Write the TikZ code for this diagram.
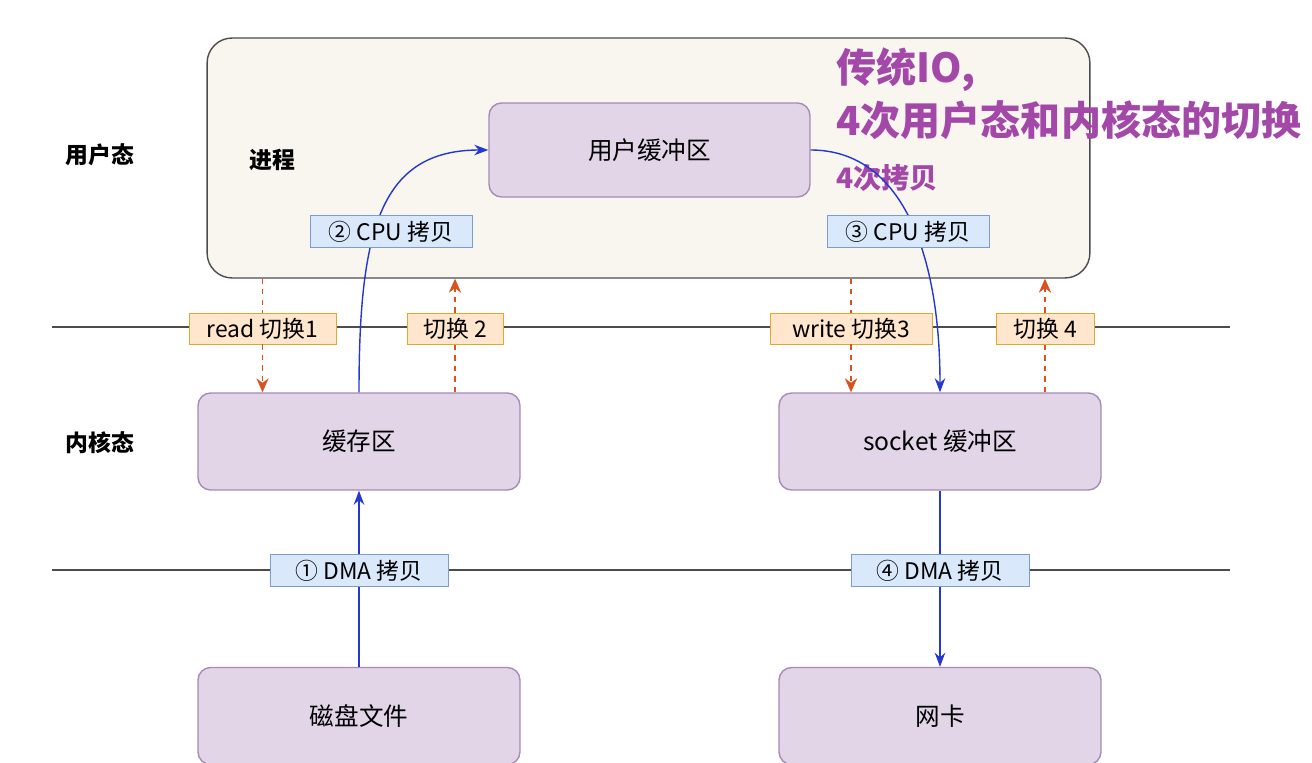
\documentclass[tikz,border=0pt]{standalone}
\usepackage{fontspec}
\setmainfont{Noto Sans CJK SC}
\usetikzlibrary{arrows.meta}

\definecolor{procFill}{HTML}{F8F6EE}
\definecolor{boxFill}{HTML}{E1D5E7}
\definecolor{boxLine}{HTML}{A58BB6}
\definecolor{swFill}{HTML}{FFE6CC}
\definecolor{swLine}{HTML}{E0A92E}
\definecolor{cpFill}{HTML}{DAE8FC}
\definecolor{cpLine}{HTML}{7C9CCB}
\definecolor{arrBlue}{HTML}{2438D0}
\definecolor{arrRed}{HTML}{D9531E}
\definecolor{ttl}{HTML}{A347A8}

\tikzstyle{pS}=[draw=black!70,fill=procFill,rounded corners=0.5cm,thick,minimum width=17.66cm,minimum height=4.8cm,inner sep=0pt]
\tikzstyle{bS}=[draw=boxLine,fill=boxFill,rounded corners=0.25cm,thick,minimum width=6.44cm,minimum height=1.94cm,inner sep=0pt,font=\fontsize{14pt}{16pt}\selectfont]
\tikzstyle{swS}=[draw=swLine,fill=swFill,minimum height=0.62cm,inner sep=0pt,font=\fontsize{13pt}{15pt}\selectfont]
\tikzstyle{cpS}=[draw=cpLine,fill=cpFill,minimum height=0.64cm,inner sep=0pt,font=\fontsize{13pt}{15pt}\selectfont]
\tikzstyle{tS}=[inner sep=0pt,font=\bfseries\fontsize{13pt}{15pt}\selectfont]
\tikzstyle{ttS}=[inner sep=0pt,anchor=west,text=ttl,font=\bfseries\fontsize{22.8pt}{26pt}\selectfont]
\tikzstyle{lS}=[draw=black!70,thick]
\tikzstyle{aS}=[draw=arrBlue,thick,-{Stealth[length=8pt,width=6pt]}]
\tikzstyle{dS}=[draw=arrRed,thick,dashed]

\begin{document}
\begin{tikzpicture}[x=0.02cm,y=-0.02cm]
    \useasboundingbox (0,0) rectangle (1312,763);
    % boxes
    \draw (648.5,158) node[pS] (proc) {};
    \draw (649.5,150) node[bS,minimum height=1.88cm,minimum width=6.42cm] (ubuf) {用户缓冲区};
    \draw (359,441.5) node[bS] (cache) {缓存区};
    \draw (940,441.5) node[bS] (sock) {socket 缓冲区};
    \draw (359,716) node[bS] (disk) {磁盘文件};
    \draw (940,716) node[bS] (nic) {网卡};
    % texts
    \draw (100,155) node[tS] (tUser) {用户态};
    \draw (100,443) node[tS] (tKern) {内核态};
    \draw (272,160) node[tS] (tProc) {进程};
    \draw (836,70) node[ttS] (t1) {传统IO,};
    \draw (836,120) node[ttS] (t2) {4次用户态和内核态的切换};
    \draw (836,178) node[ttS,font=\bfseries\fontsize{16pt}{18pt}\selectfont] (t3) {4次拷贝};
    % lines
    \coordinate (l1w) at (52,327);
    \coordinate (l1e) at (1230,327);
    \coordinate (l2w) at (52,570);
    \coordinate (l2e) at (1230,570);
    \draw[lS] (l1w) -- (l1e);
    \draw[lS] (l2w) -- (l2e);
    % cpu copies
    \draw[aS] (cache.north) .. controls (359,230) and (380,150) .. (ubuf.west);
    \draw[aS] (ubuf.east) .. controls (900,150) and (940,250) .. (sock.north);
    % labels
    \draw (262.5,328.5) node[swS,minimum width=2.94cm] (sw1) {read 切换1};
    \draw (455,328.5) node[swS,minimum width=1.92cm] (sw2) {切换 2};
    \draw (851,328.5) node[swS,minimum width=3.24cm] (sw3) {write 切换3};
    \draw (1045,328.5) node[swS,minimum width=1.96cm] (sw4) {切换 4};
    \draw (391,231.5) node[cpS,minimum width=3.24cm] (cp2) {② CPU 拷贝};
    \draw (908,231.5) node[cpS,minimum width=3.24cm] (cp3) {③ CPU 拷贝};
    \draw (359,570.5) node[cpS,minimum width=3.56cm] (cp1) {① DMA 拷贝};
    \draw (940,570.5) node[cpS,minimum width=3.56cm] (cp4) {④ DMA 拷贝};
    % dma copies
    \draw[aS,-] (disk.north) -- (cp1.south);
    \draw[aS] (cp1.north) -- (cache.south);
    \draw[aS,-] (sock.south) -- (cp4.north);
    \draw[aS] (cp4.south) -- (nic.north);
    % switches
    \draw[dS] (proc.south -| sw1) -- (sw1.north);
    \draw[dS,-{Stealth[length=8pt,width=7pt]}] (sw1.south) -- (cache.north -| sw1);
    \draw[dS] (cache.north -| sw2) -- (sw2.south);
    \draw[dS,-{Stealth[length=8pt,width=7pt]}] (sw2.north) -- (proc.south -| sw2);
    \draw[dS] (proc.south -| sw3) -- (sw3.north);
    \draw[dS,-{Stealth[length=8pt,width=7pt]}] (sw3.south) -- (sock.north -| sw3);
    \draw[dS] (sock.north -| sw4) -- (sw4.south);
    \draw[dS,-{Stealth[length=8pt,width=7pt]}] (sw4.north) -- (proc.south -| sw4);
\end{tikzpicture}
\end{document}
